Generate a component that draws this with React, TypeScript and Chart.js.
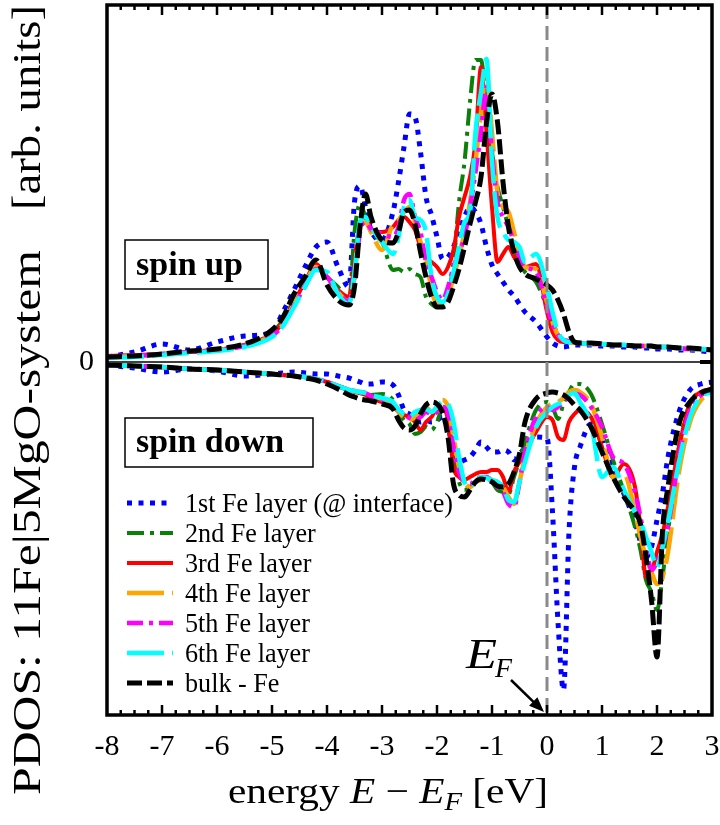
import React, { useEffect, useRef } from "react";
import { Chart, registerables } from "chart.js";

Chart.register(...registerables);

// ---------------- data ----------------
const energies = [-8, -7.5, -7, -6.5, -6, -5.5, -5, -4.8, -4.6, -4.4, -4.2, -4.0, -3.8, -3.6, -3.5, -3.4, -3.3, -3.2, -3.0, -2.8, -2.7, -2.6, -2.5, -2.4, -2.3, -2.2, -2.1, -2.0, -1.9, -1.8, -1.7, -1.6, -1.5, -1.4, -1.3, -1.2, -1.1, -1.0, -0.9, -0.8, -0.7, -0.6, -0.5, -0.4, -0.2, 0, 0.1, 0.2, 0.3, 0.4, 0.5, 0.6, 0.8, 1.0, 1.2, 1.4, 1.6, 1.7, 1.8, 1.9, 2.0, 2.1, 2.2, 2.4, 2.6, 2.8, 3.0];

const layerNames = ["1st Fe layer (@ interface)", "2nd Fe layer", "3rd Fe layer", "4th Fe layer", "5th Fe layer", "6th Fe layer", "bulk - Fe"];

// spin up
const upLayer1 = [0.05, 0.1, 0.18, 0.12, 0.2, 0.26, 0.3, 0.5, 0.72, 0.95, 1.15, 1.2, 0.95, 0.75, 1.6, 1.76, 1.55, 1.32, 1.22, 1.5, 1.8, 2.15, 2.48, 2.45, 2.1, 1.65, 1.47, 1.25, 1.03, 1.05, 1.15, 1.3, 1.45, 1.55, 1.5, 1.38, 1.15, 0.97, 0.88, 0.8, 0.72, 0.66, 0.58, 0.5, 0.4, 0.25, 0.19, 0.16, 0.15, 0.16, 0.17, 0.17, 0.17, 0.16, 0.16, 0.15, 0.15, 0.14, 0.14, 0.14, 0.13, 0.13, 0.13, 0.12, 0.12, 0.11, 0.1];
const upLayer2 = [0.05, 0.06, 0.08, 0.1, 0.12, 0.17, 0.29, 0.42, 0.62, 0.8, 0.95, 0.85, 0.75, 0.62, 1.3, 1.58, 1.45, 1.3, 1.2, 0.92, 0.93, 0.9, 0.93, 0.88, 0.85, 0.65, 0.58, 0.55, 0.56, 0.65, 1.0, 1.6, 2.0, 2.6, 3.02, 3.02, 2.55, 2.1, 1.75, 1.55, 1.35, 1.15, 1.0, 0.9, 0.8, 0.55, 0.4, 0.28, 0.22, 0.2, 0.19, 0.19, 0.18, 0.18, 0.17, 0.17, 0.16, 0.16, 0.16, 0.16, 0.15, 0.15, 0.15, 0.14, 0.13, 0.13, 0.12];
const upLayer3 = [0.06, 0.07, 0.08, 0.1, 0.12, 0.17, 0.28, 0.4, 0.6, 0.8, 0.98, 0.85, 0.72, 0.65, 1.0, 1.4, 1.45, 1.33, 1.3, 1.35, 1.42, 1.45, 1.4, 1.32, 1.15, 1.05, 1.0, 0.95, 0.88, 0.95, 1.12, 1.45, 1.65, 1.85, 2.2, 2.95, 2.3, 1.55, 1.0, 1.08, 1.15, 1.05, 0.98, 0.95, 0.98, 0.5, 0.3, 0.22, 0.2, 0.2, 0.2, 0.19, 0.18, 0.18, 0.17, 0.17, 0.16, 0.16, 0.16, 0.16, 0.15, 0.15, 0.15, 0.14, 0.13, 0.13, 0.12];
const upLayer4 = [0.05, 0.06, 0.08, 0.1, 0.12, 0.16, 0.27, 0.38, 0.58, 0.78, 0.95, 0.85, 0.7, 0.6, 0.85, 1.35, 1.4, 1.3, 1.12, 1.38, 1.42, 1.5, 1.55, 1.4, 1.2, 1.05, 0.72, 0.58, 0.56, 0.65, 0.85, 1.05, 1.3, 1.6, 2.0, 2.5, 2.88, 2.3, 1.7, 1.55, 1.5, 1.3, 1.1, 0.95, 0.93, 0.6, 0.4, 0.27, 0.22, 0.2, 0.19, 0.19, 0.18, 0.18, 0.17, 0.17, 0.16, 0.16, 0.16, 0.16, 0.15, 0.15, 0.15, 0.14, 0.13, 0.13, 0.12];
const upLayer5 = [0.05, 0.06, 0.08, 0.1, 0.12, 0.16, 0.26, 0.37, 0.56, 0.76, 0.93, 0.85, 0.7, 0.6, 0.85, 1.3, 1.4, 1.33, 1.28, 1.25, 1.35, 1.62, 1.68, 1.45, 1.3, 1.0, 0.85, 0.7, 0.62, 0.75, 0.95, 1.1, 1.25, 1.55, 1.9, 2.3, 2.75, 2.1, 1.6, 1.45, 1.35, 1.2, 1.05, 0.95, 0.9, 0.55, 0.38, 0.27, 0.22, 0.21, 0.2, 0.19, 0.18, 0.18, 0.17, 0.17, 0.16, 0.16, 0.16, 0.16, 0.15, 0.15, 0.15, 0.14, 0.13, 0.13, 0.12];
const upLayer6 = [0.04, 0.05, 0.07, 0.09, 0.11, 0.15, 0.25, 0.36, 0.55, 0.75, 0.92, 0.9, 0.68, 0.58, 0.9, 1.4, 1.45, 1.35, 1.2, 1.08, 1.25, 1.55, 1.62, 1.45, 1.42, 1.3, 0.85, 0.65, 0.6, 0.68, 0.9, 1.15, 1.4, 1.5, 2.3, 2.7, 3.03, 2.0, 1.45, 1.3, 1.22, 1.2, 1.15, 1.0, 1.08, 0.75, 0.5, 0.3, 0.22, 0.2, 0.2, 0.19, 0.18, 0.18, 0.17, 0.17, 0.16, 0.16, 0.16, 0.16, 0.15, 0.15, 0.15, 0.14, 0.13, 0.13, 0.12];
const upBulk = [0.05, 0.06, 0.08, 0.11, 0.13, 0.18, 0.32, 0.45, 0.68, 0.85, 1.02, 0.77, 0.62, 0.57, 0.75, 1.35, 1.68, 1.45, 1.22, 1.19, 1.3, 1.5, 1.52, 1.38, 1.1, 0.85, 0.65, 0.55, 0.55, 0.6, 0.75, 0.93, 1.15, 1.38, 1.6, 1.85, 2.39, 2.68, 2.4, 1.8, 1.35, 1.1, 0.95, 0.88, 0.83, 0.77, 0.72, 0.62, 0.48, 0.3, 0.2, 0.19, 0.19, 0.18, 0.17, 0.17, 0.16, 0.16, 0.16, 0.16, 0.15, 0.15, 0.15, 0.14, 0.14, 0.13, 0.12];

// spin down
const downLayer1 = [-0.03, -0.06, -0.1, -0.07, -0.09, -0.14, -0.12, -0.11, -0.1, -0.11, -0.12, -0.12, -0.14, -0.16, -0.18, -0.2, -0.22, -0.22, -0.2, -0.23, -0.33, -0.48, -0.52, -0.57, -0.6, -0.58, -0.6, -0.58, -0.55, -0.65, -0.9, -1.0, -0.98, -0.95, -0.88, -0.8, -0.85, -0.9, -0.9, -0.88, -0.9, -0.98, -0.92, -0.86, -0.75, -0.76, -1.5, -2.6, -3.28, -1.7, -1.05, -0.85, -0.62, -0.75, -1.05, -1.32, -1.6, -1.8, -1.95, -1.85, -1.58, -1.31, -0.95, -0.5, -0.28, -0.22, -0.2];
const downLayer2 = [-0.03, -0.04, -0.05, -0.07, -0.08, -0.1, -0.12, -0.13, -0.14, -0.15, -0.17, -0.2, -0.24, -0.28, -0.3, -0.31, -0.32, -0.33, -0.32, -0.38, -0.5, -0.58, -0.62, -0.72, -0.7, -0.65, -0.68, -0.6, -0.47, -0.6, -0.95, -1.2, -1.28, -1.25, -1.2, -1.18, -1.15, -1.2, -1.28, -1.3, -1.32, -1.15, -0.98, -0.8, -0.48, -0.4, -0.45, -0.57, -0.42, -0.3, -0.22, -0.22, -0.32, -0.62, -0.98, -1.3, -1.65, -1.88, -2.18, -2.3, -2.48, -2.15, -1.7, -0.85, -0.41, -0.3, -0.27];
const downLayer3 = [-0.03, -0.04, -0.05, -0.07, -0.08, -0.1, -0.12, -0.13, -0.14, -0.15, -0.17, -0.2, -0.24, -0.28, -0.3, -0.31, -0.33, -0.36, -0.4, -0.44, -0.5, -0.53, -0.55, -0.6, -0.68, -0.6, -0.55, -0.47, -0.47, -0.58, -1.05, -1.15, -1.18, -1.15, -1.12, -1.1, -1.1, -1.08, -1.08, -1.15, -1.3, -1.1, -1.0, -0.9, -0.7, -0.55, -0.58, -0.75, -0.78, -0.6, -0.52, -0.48, -0.55, -0.85, -1.15, -1.02, -1.25, -1.65, -2.15, -2.1, -1.9, -1.72, -1.45, -0.85, -0.42, -0.3, -0.27];
const downLayer4 = [-0.03, -0.04, -0.05, -0.07, -0.08, -0.1, -0.12, -0.13, -0.14, -0.15, -0.17, -0.2, -0.24, -0.28, -0.29, -0.3, -0.31, -0.33, -0.37, -0.42, -0.5, -0.55, -0.58, -0.55, -0.5, -0.45, -0.5, -0.45, -0.38, -0.45, -0.75, -1.05, -1.2, -1.25, -1.2, -1.18, -1.15, -1.18, -1.2, -1.25, -1.35, -1.42, -1.2, -0.95, -0.62, -0.45, -0.42, -0.4, -0.36, -0.3, -0.28, -0.3, -0.42, -0.75, -1.15, -1.12, -1.5, -1.75, -1.95, -2.1, -2.22, -2.15, -1.9, -1.1, -0.6, -0.38, -0.31];
const downLayer5 = [-0.03, -0.04, -0.05, -0.07, -0.08, -0.1, -0.12, -0.13, -0.14, -0.15, -0.17, -0.2, -0.24, -0.28, -0.29, -0.3, -0.31, -0.34, -0.38, -0.42, -0.48, -0.52, -0.56, -0.58, -0.55, -0.5, -0.52, -0.5, -0.45, -0.52, -0.85, -1.1, -1.2, -1.22, -1.18, -1.15, -1.15, -1.2, -1.25, -1.3, -1.42, -1.45, -1.2, -0.9, -0.55, -0.45, -0.48, -0.45, -0.4, -0.35, -0.32, -0.33, -0.45, -0.65, -0.95, -1.02, -1.3, -1.55, -1.85, -2.08, -2.0, -1.85, -1.65, -0.95, -0.48, -0.33, -0.3];
const downLayer6 = [-0.03, -0.04, -0.05, -0.07, -0.08, -0.1, -0.12, -0.13, -0.14, -0.15, -0.17, -0.2, -0.24, -0.28, -0.29, -0.3, -0.31, -0.33, -0.36, -0.4, -0.48, -0.52, -0.55, -0.5, -0.48, -0.47, -0.5, -0.45, -0.4, -0.42, -0.6, -0.95, -1.2, -1.25, -1.2, -1.15, -1.16, -1.18, -1.2, -1.25, -1.38, -1.4, -1.2, -1.0, -0.65, -0.5, -0.45, -0.42, -0.4, -0.33, -0.31, -0.4, -0.62, -1.15, -1.05, -1.28, -1.5, -1.6, -1.75, -1.9, -2.05, -1.85, -1.6, -1.0, -0.55, -0.35, -0.3];
const downBulk = [-0.03, -0.04, -0.05, -0.07, -0.08, -0.1, -0.12, -0.13, -0.14, -0.16, -0.18, -0.22, -0.27, -0.33, -0.35, -0.37, -0.38, -0.39, -0.42, -0.47, -0.58, -0.66, -0.68, -0.64, -0.52, -0.43, -0.4, -0.42, -0.5, -0.75, -1.22, -1.33, -1.35, -1.28, -1.2, -1.17, -1.18, -1.2, -1.24, -1.25, -1.22, -1.1, -0.92, -0.6, -0.37, -0.31, -0.3, -0.31, -0.33, -0.37, -0.43, -0.48, -0.65, -0.9, -1.15, -1.35, -1.5, -1.62, -1.95, -2.38, -2.95, -1.7, -1.25, -0.62, -0.4, -0.31, -0.27];

const xTickLabels = ["-8", "-7", "-6", "-5", "-4", "-3", "-2", "-1", "0", "1", "2", "3"];
const yTickLabels = ["0"];

// ---------------- styles ----------------
const FONT = '"Liberation Serif", serif';
const lineStyles = [
  { color: "#0000ff", dash: [5, 6.5], width: 5 },
  { color: "#0a800a", dash: [17, 6, 4, 6], width: 4 },
  { color: "#ff0000", dash: [], width: 4 },
  { color: "#ffa500", dash: [37, 8], width: 4.5 },
  { color: "#ff00ff", dash: [16, 6, 4, 6], width: 4.5 },
  { color: "#00ffff", dash: [37, 8], width: 4.5 },
  { color: "#000000", dash: [15, 5], width: 5 },
];

function fitText(ctx: CanvasRenderingContext2D, text: string, x: number, y: number, font: string, targetW: number) {
  ctx.font = font;
  const w = ctx.measureText(text).width;
  const sx = targetW / w;
  ctx.save();
  ctx.translate(x, y);
  ctx.scale(sx, 1);
  ctx.fillText(text, 0, 0);
  ctx.restore();
  return sx;
}

function drawScaled(ctx: CanvasRenderingContext2D, text: string, x: number, y: number, font: string, sx: number) {
  ctx.font = font;
  ctx.save();
  ctx.translate(x, y);
  ctx.scale(sx, 1);
  ctx.fillText(text, 0, 0);
  ctx.restore();
}

const decorPlugin = {
  id: "pdosDecor",
  beforeDatasetsDraw(chart: any) {
    const { ctx, chartArea: a, scales } = chart;
    const y0 = scales.y.getPixelForValue(0);
    ctx.save();
    ctx.strokeStyle = "#000";
    ctx.lineWidth = 1.5;
    ctx.beginPath();
    ctx.moveTo(a.left, y0);
    ctx.lineTo(a.right, y0);
    ctx.stroke();
    ctx.restore();
  },
  afterDatasetsDraw(chart: any) {
    const { ctx, chartArea: a, scales } = chart;
    const xs = scales.x;
    const ys = scales.y;
    ctx.save();
    // Fermi level line
    const xF = xs.getPixelForValue(0);
    ctx.strokeStyle = "#8a8a8a";
    ctx.lineWidth = 3;
    ctx.setLineDash([14, 7]);
    ctx.beginPath();
    ctx.moveTo(xF, a.top);
    ctx.lineTo(xF, a.bottom);
    ctx.stroke();
    ctx.setLineDash([]);

    // ticks
    ctx.strokeStyle = "#000";
    ctx.lineWidth = 2.5;
    for (let k = -31; k < 12; k++) {
      const v = k / 4;
      const px = xs.getPixelForValue(v);
      const len = k % 4 === 0 ? 10 : 5;
      ctx.beginPath();
      ctx.moveTo(px, a.top);
      ctx.lineTo(px, a.top + len);
      ctx.moveTo(px, a.bottom);
      ctx.lineTo(px, a.bottom - len);
      ctx.stroke();
    }
    // right zero tick
    const y0 = ys.getPixelForValue(0);
    ctx.lineWidth = 4;
    ctx.beginPath();
    ctx.moveTo(a.right - 12, y0);
    ctx.lineTo(a.right, y0);
    ctx.stroke();

    // frame
    ctx.lineWidth = 3.5;
    ctx.strokeRect(a.left, a.top, a.right - a.left, a.bottom - a.top);

    // spin boxes
    ctx.fillStyle = "#fff";
    ctx.lineWidth = 1.5;
    ctx.fillRect(125, 240, 143, 49);
    ctx.strokeRect(125, 240, 143, 49);
    ctx.fillRect(125, 418, 188, 49);
    ctx.strokeRect(125, 418, 188, 49);
    ctx.fillStyle = "#000";
    ctx.textAlign = "left";
    ctx.textBaseline = "alphabetic";
    fitText(ctx, "spin up", 136, 275, `bold 34px ${FONT}`, 107);
    fitText(ctx, "spin down", 136, 452, `bold 34px ${FONT}`, 148);

    // legend
    const rows = [503, 533, 563, 593, 623, 653, 683];
    ctx.font = `28px ${FONT}`;
    const sxLeg = 268 / ctx.measureText(layerNames[0]).width;
    layerNames.forEach((name, i) => {
      const st = lineStyles[i];
      ctx.strokeStyle = st.color;
      ctx.lineWidth = st.width;
      ctx.lineCap = "butt";
      ctx.setLineDash(st.dash);
      ctx.beginPath();
      ctx.moveTo(127, rows[i]);
      ctx.lineTo(173, rows[i]);
      ctx.stroke();
      ctx.setLineDash([]);
      ctx.fillStyle = "#000";
      drawScaled(ctx, name, 185, rows[i] + 9, `28px ${FONT}`, sxLeg);
    });

    // E_F label and arrow
    ctx.fillStyle = "#000";
    fitText(ctx, "E", 466, 668, `italic 42px ${FONT}`, 31);
    fitText(ctx, "F", 495, 677, `italic 28px ${FONT}`, 17);
    const x1 = 511, y1 = 680, x2 = xF - 3, y2 = a.bottom - 3;
    const ang = Math.atan2(y2 - y1, x2 - x1);
    ctx.strokeStyle = "#000";
    ctx.lineWidth = 2.5;
    ctx.beginPath();
    ctx.moveTo(x1, y1);
    ctx.lineTo(x2 - 10 * Math.cos(ang), y2 - 10 * Math.sin(ang));
    ctx.stroke();
    ctx.beginPath();
    ctx.moveTo(x2, y2);
    ctx.lineTo(x2 - 15 * Math.cos(ang) + 6 * Math.sin(ang), y2 - 15 * Math.sin(ang) - 6 * Math.cos(ang));
    ctx.lineTo(x2 - 15 * Math.cos(ang) - 6 * Math.sin(ang), y2 - 15 * Math.sin(ang) + 6 * Math.cos(ang));
    ctx.closePath();
    ctx.fill();
    ctx.restore();
  },
  afterDraw(chart: any) {
    const { ctx } = chart;
    ctx.save();
    ctx.fillStyle = "#000";
    ctx.textAlign = "left";
    ctx.textBaseline = "alphabetic";
    // y title (rotated)
    ctx.save();
    ctx.translate(40, 795);
    ctx.rotate(-Math.PI / 2);
    fitText(ctx, "PDOS: 11Fe|5MgO-system", 0, 0, `40px ${FONT}`, 545);
    fitText(ctx, "[arb. units]", 585, 0, `40px ${FONT}`, 205);
    ctx.restore();

    // x title
    const parts = [
      { t: "energy ", f: `36px ${FONT}`, dy: 0 },
      { t: "E", f: `italic 36px ${FONT}`, dy: 0 },
      { t: " \u2212 ", f: `36px ${FONT}`, dy: 0 },
      { t: "E", f: `italic 36px ${FONT}`, dy: 0 },
      { t: "F", f: `italic 25px ${FONT}`, dy: 7 },
      { t: " [eV]", f: `36px ${FONT}`, dy: 0 },
    ];
    let total = 0;
    const widths = parts.map((p) => {
      ctx.font = p.f;
      const w = ctx.measureText(p.t).width;
      total += w;
      return w;
    });
    const sx = 320 / total;
    let x = 228;
    parts.forEach((p, i) => {
      drawScaled(ctx, p.t, x, 803 + p.dy, p.f, sx);
      x += widths[i] * sx;
    });
    ctx.restore();
  },
};

export default function App() {
  const canvasRef = useRef<HTMLCanvasElement | null>(null);

  useEffect(() => {
    document.body.style.margin = "0";
    const canvas = canvasRef.current;
    if (!canvas) return;
    let chart: any = null;
    let cancelled = false;

    const ups = [upLayer1, upLayer2, upLayer3, upLayer4, upLayer5, upLayer6, upBulk];
    const downs = [downLayer1, downLayer2, downLayer3, downLayer4, downLayer5, downLayer6, downBulk];
    const datasets: any[] = [];
    ups.forEach((arr, i) => {
      const st = lineStyles[i];
      const common = {
        borderColor: st.color,
        backgroundColor: st.color,
        borderWidth: st.width,
        borderDash: st.dash,
        borderCapStyle: "butt",
        borderJoinStyle: "round",
        pointRadius: 0,
        fill: false,
        cubicInterpolationMode: "monotone",
        order: 6 - i,
      };
      datasets.push({ label: layerNames[i] + " (spin up)", data: energies.map((e, j) => ({ x: e, y: arr[j] })), ...common });
      datasets.push({ label: layerNames[i] + " (spin down)", data: energies.map((e, j) => ({ x: e, y: downs[i][j] })), ...common });
    });

    const build = () => {
      if (cancelled) return;
      chart = new Chart(canvas, {
        type: "line",
        data: { datasets },
        options: {
          animation: false,
          responsive: false,
          events: [],
          layout: { padding: { top: 5, right: 8, left: 0, bottom: 0 } },
          plugins: { legend: { display: false }, tooltip: { enabled: false } },
          scales: {
            x: {
              type: "linear",
              min: -8,
              max: 3,
              afterFit: (s: any) => {
                s.height = 110;
                s.paddingLeft = 0;
                s.paddingRight = 0;
              },
              grid: { display: false, drawTicks: false },
              border: { display: false },
              ticks: {
                stepSize: 1,
                autoSkip: false,
                maxRotation: 0,
                padding: 14,
                color: "#000",
                font: { family: FONT, size: 30 },
                callback: (v: any) => xTickLabels[Math.round(Number(v) + 8)] ?? "",
              },
            },
            y: {
              type: "linear",
              min: -3.53,
              max: 3.57,
              afterFit: (s: any) => {
                s.width = 107;
                s.paddingTop = 0;
                s.paddingBottom = 0;
              },
              afterBuildTicks: (s: any) => {
                s.ticks = [{ value: 0 }];
              },
              grid: { display: false, drawTicks: false },
              border: { display: false },
              ticks: {
                padding: 13,
                color: "#000",
                font: { family: FONT, size: 30 },
                callback: (v: any) => (Number(v) === 0 ? yTickLabels[0] : ""),
              },
            },
          },
        } as any,
        plugins: [decorPlugin as any],
      });
    };

    const fonts: any = (document as any).fonts;
    if (fonts && fonts.load) {
      Promise.all([
        fonts.load(`29px ${FONT}`),
        fonts.load(`bold 29px ${FONT}`),
        fonts.load(`italic 29px ${FONT}`),
      ])
        .catch(() => null)
        .then(() => build());
    } else {
      build();
    }

    return () => {
      cancelled = true;
      if (chart) chart.destroy();
    };
  }, []);

  return (
    <div style={{ width: 720, height: 825 }}>
      <canvas ref={canvasRef} width={720} height={825} style={{ display: "block" }} />
    </div>
  );
}
